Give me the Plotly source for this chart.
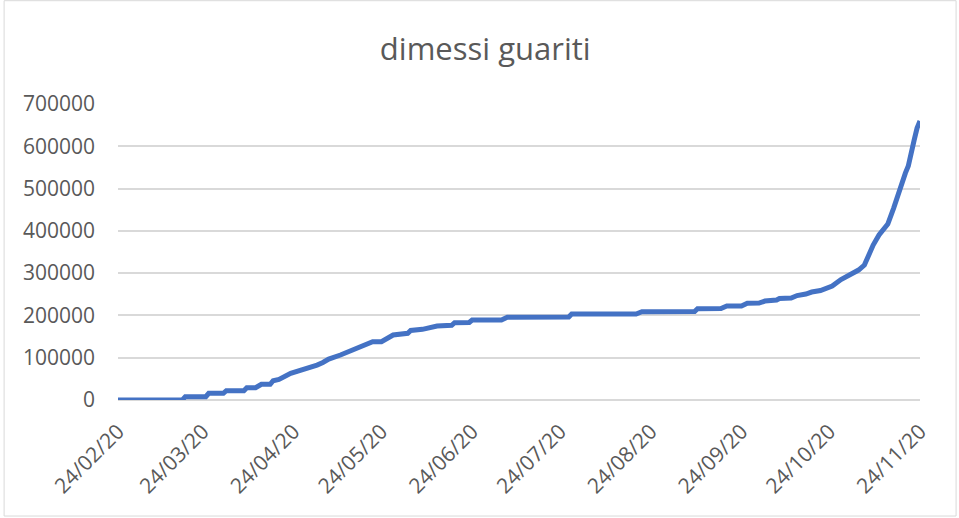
import plotly.graph_objects as go

# Data (cumulative "dimessi guariti")
dates = ['2020-02-24', '2020-03-17', '2020-03-18', '2020-03-25', '2020-03-26',
         '2020-03-31', '2020-04-01', '2020-04-07', '2020-04-08', '2020-04-11',
         '2020-04-13', '2020-04-16', '2020-04-17', '2020-04-19', '2020-04-23',
         '2020-04-26', '2020-04-30', '2020-05-02', '2020-05-04', '2020-05-06',
         '2020-05-10', '2020-05-13', '2020-05-18', '2020-05-21', '2020-05-24',
         '2020-05-28', '2020-06-02', '2020-06-03', '2020-06-07', '2020-06-12',
         '2020-06-17', '2020-06-18', '2020-06-23', '2020-06-24', '2020-07-04',
         '2020-07-06', '2020-07-27', '2020-07-28', '2020-08-19', '2020-08-21',
         '2020-09-08', '2020-09-09', '2020-09-17', '2020-09-19', '2020-09-24',
         '2020-09-26', '2020-09-30', '2020-10-02', '2020-10-06', '2020-10-07',
         '2020-10-11', '2020-10-13', '2020-10-16', '2020-10-18', '2020-10-21',
         '2020-10-25', '2020-10-28', '2020-10-31', '2020-11-03', '2020-11-05',
         '2020-11-06', '2020-11-07', '2020-11-08', '2020-11-10', '2020-11-12',
         '2020-11-13', '2020-11-15', '2020-11-17', '2020-11-19', '2020-11-20',
         '2020-11-21', '2020-11-22', '2020-11-23', '2020-11-24']

guariti = [0, 0, 7800, 7800, 15800,
           15800, 22000, 22000, 29100, 29100,
           37100, 37100, 45600, 48500, 63100,
           69700, 75600, 82700, 88700, 96900,
           106400, 114200, 130000, 137800, 137800,
           153700, 157700, 164300, 167100, 174900,
           176600, 182700, 183200, 189100, 189100,
           195500, 196200, 203300, 203300, 208800,
           209200, 215800, 216300, 222200, 222200,
           228600, 229300, 234000, 236400, 240000,
           241100, 247000, 250600, 255300, 258900,
           269500, 284900, 296700, 307300, 319100,
           335700, 354600, 366400, 390100, 406600,
           416100, 453900, 498800, 536600, 553200,
           579200, 614600, 643000, 659600]

title_text = "dimessi guariti"
y_ticks = [0, 100000, 200000, 300000, 400000, 500000, 600000, 700000]
y_ticklabels = [str(v) for v in y_ticks]

grey_text = "#595959"
grid_col = "#d9d9d9"
font_family = "Open Sans"

fig = go.Figure()
fig.add_trace(go.Scatter(
    x=dates, y=guariti, mode="lines",
    line=dict(color="#4472C4", width=5),
    hoverinfo="x+y", showlegend=False,
))

fig.update_layout(
    width=959, height=518,
    margin=dict(l=118, r=39, t=104, b=117.5),
    paper_bgcolor="white", plot_bgcolor="white",
    title=dict(text=title_text, x=0.506, xref="container", xanchor="center",
               y=0.905, yref="container", yanchor="middle",
               font=dict(family=font_family, size=31, color=grey_text)),
    xaxis=dict(
        type="date",
        range=["2020-02-24", "2020-11-24"],
        tick0="2020-02-24", dtick="M1", tickformat="%d/%m/%y",
        tickangle=-45, showgrid=False, zeroline=False, showline=False,
        ticks="", ticklabelstandoff=14,
        tickfont=dict(family=font_family, size=21, color=grey_text),
    ),
    yaxis=dict(
        range=[0, 700000], tickvals=y_ticks, ticktext=y_ticklabels,
        showgrid=True, gridcolor=grid_col, gridwidth=1.6,
        zeroline=True, zerolinecolor=grid_col, zerolinewidth=1.6,
        showline=False, ticks="", ticklabelstandoff=22,
        tickfont=dict(family=font_family, size=21, color=grey_text),
    ),
    shapes=[dict(type="rect", xref="paper", yref="paper",
                 x0=-0.142, x1=1.045, y0=-0.392, y1=1.349,
                 line=dict(color=grid_col, width=1), layer="below")],
)

fig.write_html("out.html",
               config={"displayModeBar": False},
               post_script="document.body.style.margin='0';")
